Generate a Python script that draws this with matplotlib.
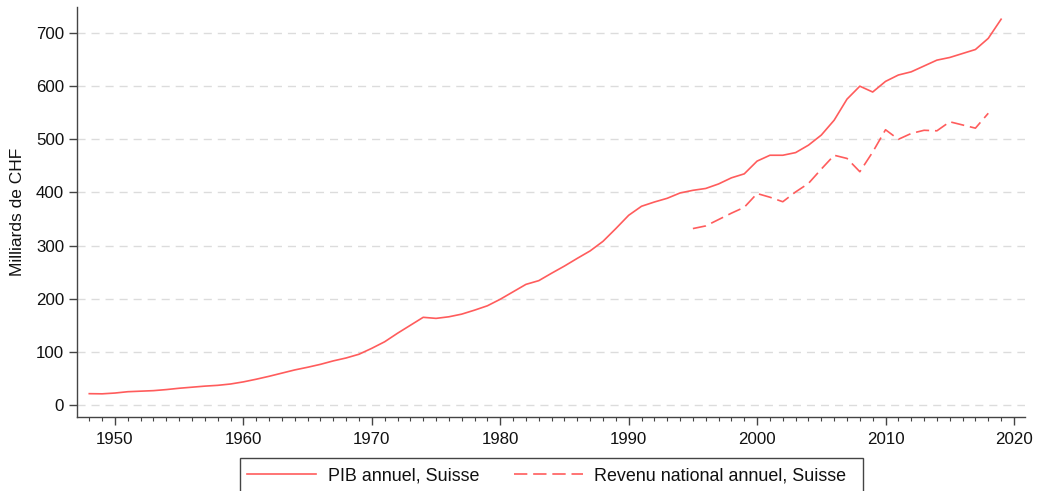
import matplotlib
matplotlib.use("Agg")
import matplotlib.pyplot as plt
from matplotlib.patches import Rectangle
from matplotlib.ticker import MultipleLocator

plt.rcParams['font.family'] = ['Liberation Sans', 'DejaVu Sans']

years_pib = list(range(1948, 2020))
pib = [21.3, 21, 22.5, 25, 26, 27, 29, 31.5, 33.5, 35.5, 37, 39.5,
       43.5, 48.5, 54, 60, 66, 71, 76.5, 83, 88.5, 95.5,
       106.7, 119, 135, 150, 165, 163, 166, 171, 178.5, 186.7,
       199, 213, 227, 234, 248, 261.5, 276, 290, 308, 332,
       357, 374, 382, 389, 399, 404, 407.5, 416, 427.5, 435,
       459, 470, 470, 475, 489, 508, 536, 575.6, 600, 589,
       609, 621, 627, 638, 649, 654, 661.5, 669, 690, 726]

years_rn = list(range(1995, 2019))
rn = [332, 337, 349, 361, 372, 398, 391, 382.5, 401, 417, 444,
      470, 464, 439, 476, 518, 500, 511, 517, 516, 533, 527, 521, 549]

labels = ["PIB annuel, Suisse", "Revenu national annuel, Suisse"]
ylabel = "Milliards de CHF"
color = "#ff5c5c"

W, H = 1038, 491
fig = plt.figure(figsize=(W / 100, H / 100), dpi=100)
ax = fig.add_axes([76.7 / W, 1 - 417 / H, (1025 - 76.7) / W, (417 - 7) / H])

l1, = ax.plot(years_pib, pib, color=color, lw=1.2, solid_joinstyle='round')
l2, = ax.plot(years_rn, rn, color=color, lw=1.2, dashes=(8, 3.5))

ax.set_xlim(1947.02, 2020.86)
ax.set_ylim(-22.6, 749)
ax.set_xticks(range(1950, 2021, 10))
ax.xaxis.set_minor_locator(MultipleLocator(1))
ax.set_yticks(range(0, 701, 100))

for y in range(0, 701, 100):
    ax.axhline(y, color="#dcdcdc", lw=1.0, dashes=(5.8, 4.3), zorder=0)

for s in ['top', 'right']:
    ax.spines[s].set_visible(False)
for s in ['left', 'bottom']:
    ax.spines[s].set_color("#444444")
    ax.spines[s].set_linewidth(1.0)

ax.tick_params(axis='both', which='major', labelsize=12.2, colors="#444444",
               labelcolor="#111111", width=1.0, length=5.5)
ax.tick_params(axis='y', which='major', pad=3.5)
ax.tick_params(axis='x', which='minor', colors="#444444", width=0.8, length=3.2)
ax.tick_params(axis='x', which='major', pad=5)
ax.set_ylabel(ylabel, fontsize=12.5, color="#111111")
ax.yaxis.set_label_coords((25 - 76.7) / (1025 - 76.7), 0.5)

# legend frame
fig.patches.append(Rectangle((240 / W, -0.02), (863 - 240) / W, (H - 458.3) / H + 0.02,
                             transform=fig.transFigure, fill=False,
                             edgecolor="#444444", lw=1.0))
leg = fig.legend([l1, l2], labels, loc='center left',
                 bbox_to_anchor=(247 / W, 1 - 476 / H), ncol=2, frameon=False,
                 fontsize=12.9, handlelength=3.85, handletextpad=0.65,
                 columnspacing=1.94, borderaxespad=0, borderpad=0)
for t in leg.get_texts():
    t.set_color("#111111")

fig.savefig("out.png", dpi=100)
